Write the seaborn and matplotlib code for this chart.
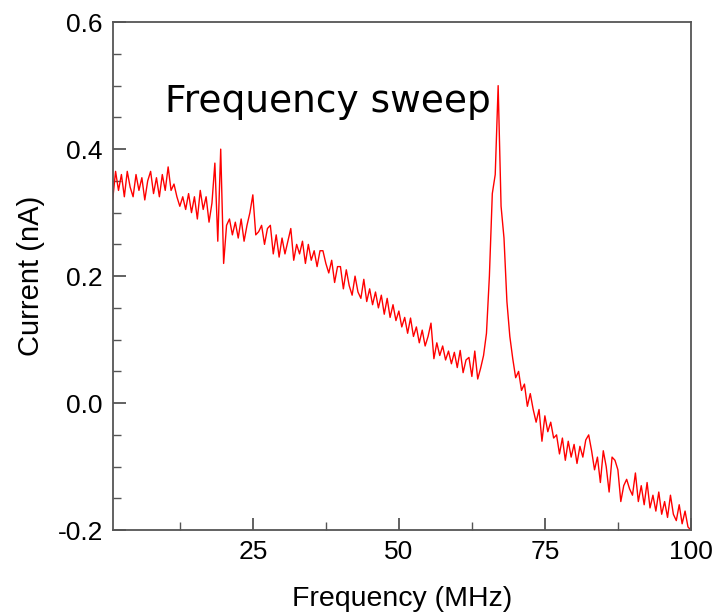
import numpy as np
import pandas as pd
import matplotlib
matplotlib.use("Agg")
import matplotlib.pyplot as plt
import seaborn as sns
from matplotlib.ticker import MultipleLocator, FixedLocator

# ---- data ----
freq_start = 1.0
freq_step = 0.5
current = [
    # 1.0 - 10.5
    0.32, 0.365, 0.335, 0.36, 0.325, 0.365, 0.34, 0.325, 0.36, 0.335,
    0.355, 0.32, 0.35, 0.365, 0.33, 0.355, 0.325, 0.36, 0.335, 0.372,
    # 11.0 - 20.5
    0.335, 0.345, 0.325, 0.31, 0.325, 0.305, 0.33, 0.30, 0.325, 0.29,
    0.335, 0.305, 0.325, 0.285, 0.315, 0.378, 0.255, 0.40, 0.22, 0.28,
    # 21.0 - 30.5
    0.29, 0.265, 0.285, 0.26, 0.29, 0.255, 0.28, 0.30, 0.328, 0.265,
    0.27, 0.28, 0.25, 0.275, 0.28, 0.235, 0.265, 0.23, 0.26, 0.235,
    # 31.0 - 40.5
    0.255, 0.275, 0.225, 0.25, 0.235, 0.255, 0.22, 0.25, 0.225, 0.24,
    0.215, 0.24, 0.24, 0.22, 0.205, 0.225, 0.19, 0.215, 0.215, 0.18,
    # 41.0 - 50.5
    0.21, 0.185, 0.17, 0.2, 0.175, 0.165, 0.195, 0.16, 0.18, 0.155,
    0.175, 0.15, 0.17, 0.14, 0.165, 0.135, 0.155, 0.13, 0.145, 0.12,
    # 51.0 - 60.5
    0.135, 0.11, 0.134, 0.105, 0.12, 0.095, 0.115, 0.09, 0.105, 0.126,
    0.07, 0.095, 0.075, 0.09, 0.068, 0.082, 0.062, 0.08, 0.056, 0.083,
    # 61.0 - 70.5
    0.048, 0.068, 0.072, 0.042, 0.082, 0.038, 0.055, 0.075, 0.11, 0.20,
    0.33, 0.36, 0.50, 0.31, 0.26, 0.16, 0.105, 0.07, 0.04, 0.05,
    # 71.0 - 80.5
    0.02, 0.03, -0.005, 0.015, -0.01, -0.03, -0.01, -0.06, -0.02, -0.045,
    -0.03, -0.055, -0.05, -0.08, -0.055, -0.09, -0.06, -0.085, -0.065, -0.095,
    # 81.0 - 90.5
    -0.068, -0.085, -0.058, -0.05, -0.075, -0.105, -0.085, -0.125, -0.075, -0.1,
    -0.14, -0.085, -0.09, -0.105, -0.155, -0.13, -0.12, -0.135, -0.145, -0.11,
    # 91.0 - 100.0
    -0.155, -0.13, -0.16, -0.125, -0.165, -0.145, -0.17, -0.14, -0.175, -0.155,
    -0.18, -0.145, -0.175, -0.185, -0.16, -0.19, -0.17, -0.195, -0.20,
]
freq = freq_start + freq_step * np.arange(len(current))

x_ticks = [25, 50, 75, 100]
y_ticks = [-0.2, 0.0, 0.2, 0.4, 0.6]
y_tick_labels = ["-0.2", "0.0", "0.2", "0.4", "0.6"]
annotation = "Frequency sweep"

df = pd.DataFrame({"Frequency (MHz)": freq, "Current (nA)": current})

sns.set_theme(style="white")
plt.rcParams["font.family"] = ["Liberation Sans", "DejaVu Sans"]
plt.rcParams["axes.unicode_minus"] = False
plt.rcParams["axes.labelcolor"] = "black"

fig = plt.figure(figsize=(7.13, 6.15), dpi=100)
ax = fig.add_axes([0.158, 0.138, 0.811, 0.826])

sns.lineplot(data=df, x="Frequency (MHz)", y="Current (nA)", ax=ax,
             color="#ff0000", linewidth=1.0, estimator=None, sort=False)

ax.set_xlim(1, 100)
ax.set_ylim(-0.2, 0.6)
ax.xaxis.set_major_locator(FixedLocator(x_ticks))
ax.xaxis.set_minor_locator(MultipleLocator(12.5))
ax.set_yticks(y_ticks)
ax.set_yticklabels(y_tick_labels)
ax.yaxis.set_minor_locator(MultipleLocator(0.05))

spine_color = "#555555"
for s in ax.spines.values():
    s.set_color(spine_color)
    s.set_linewidth(1.3)

ax.tick_params(axis="both", which="major", direction="in", length=9, width=1.3,
               color=spine_color, labelsize=19, pad=7, labelcolor="black")
ax.tick_params(axis="both", which="minor", direction="in", length=6, width=1.0,
               color=spine_color)
ax.tick_params(bottom=True, left=True, top=False, right=False, which="both")

ax.set_xlabel("Frequency (MHz)", fontsize=20.5, labelpad=16, color="black")
ax.set_ylabel("Current (nA)", fontsize=21, labelpad=9, color="black")

ax.text(10, 0.458, annotation, fontsize=27, family=["DejaVu Sans"],
        va="baseline", ha="left", color="black")

fig.savefig("out.png", dpi=100)
